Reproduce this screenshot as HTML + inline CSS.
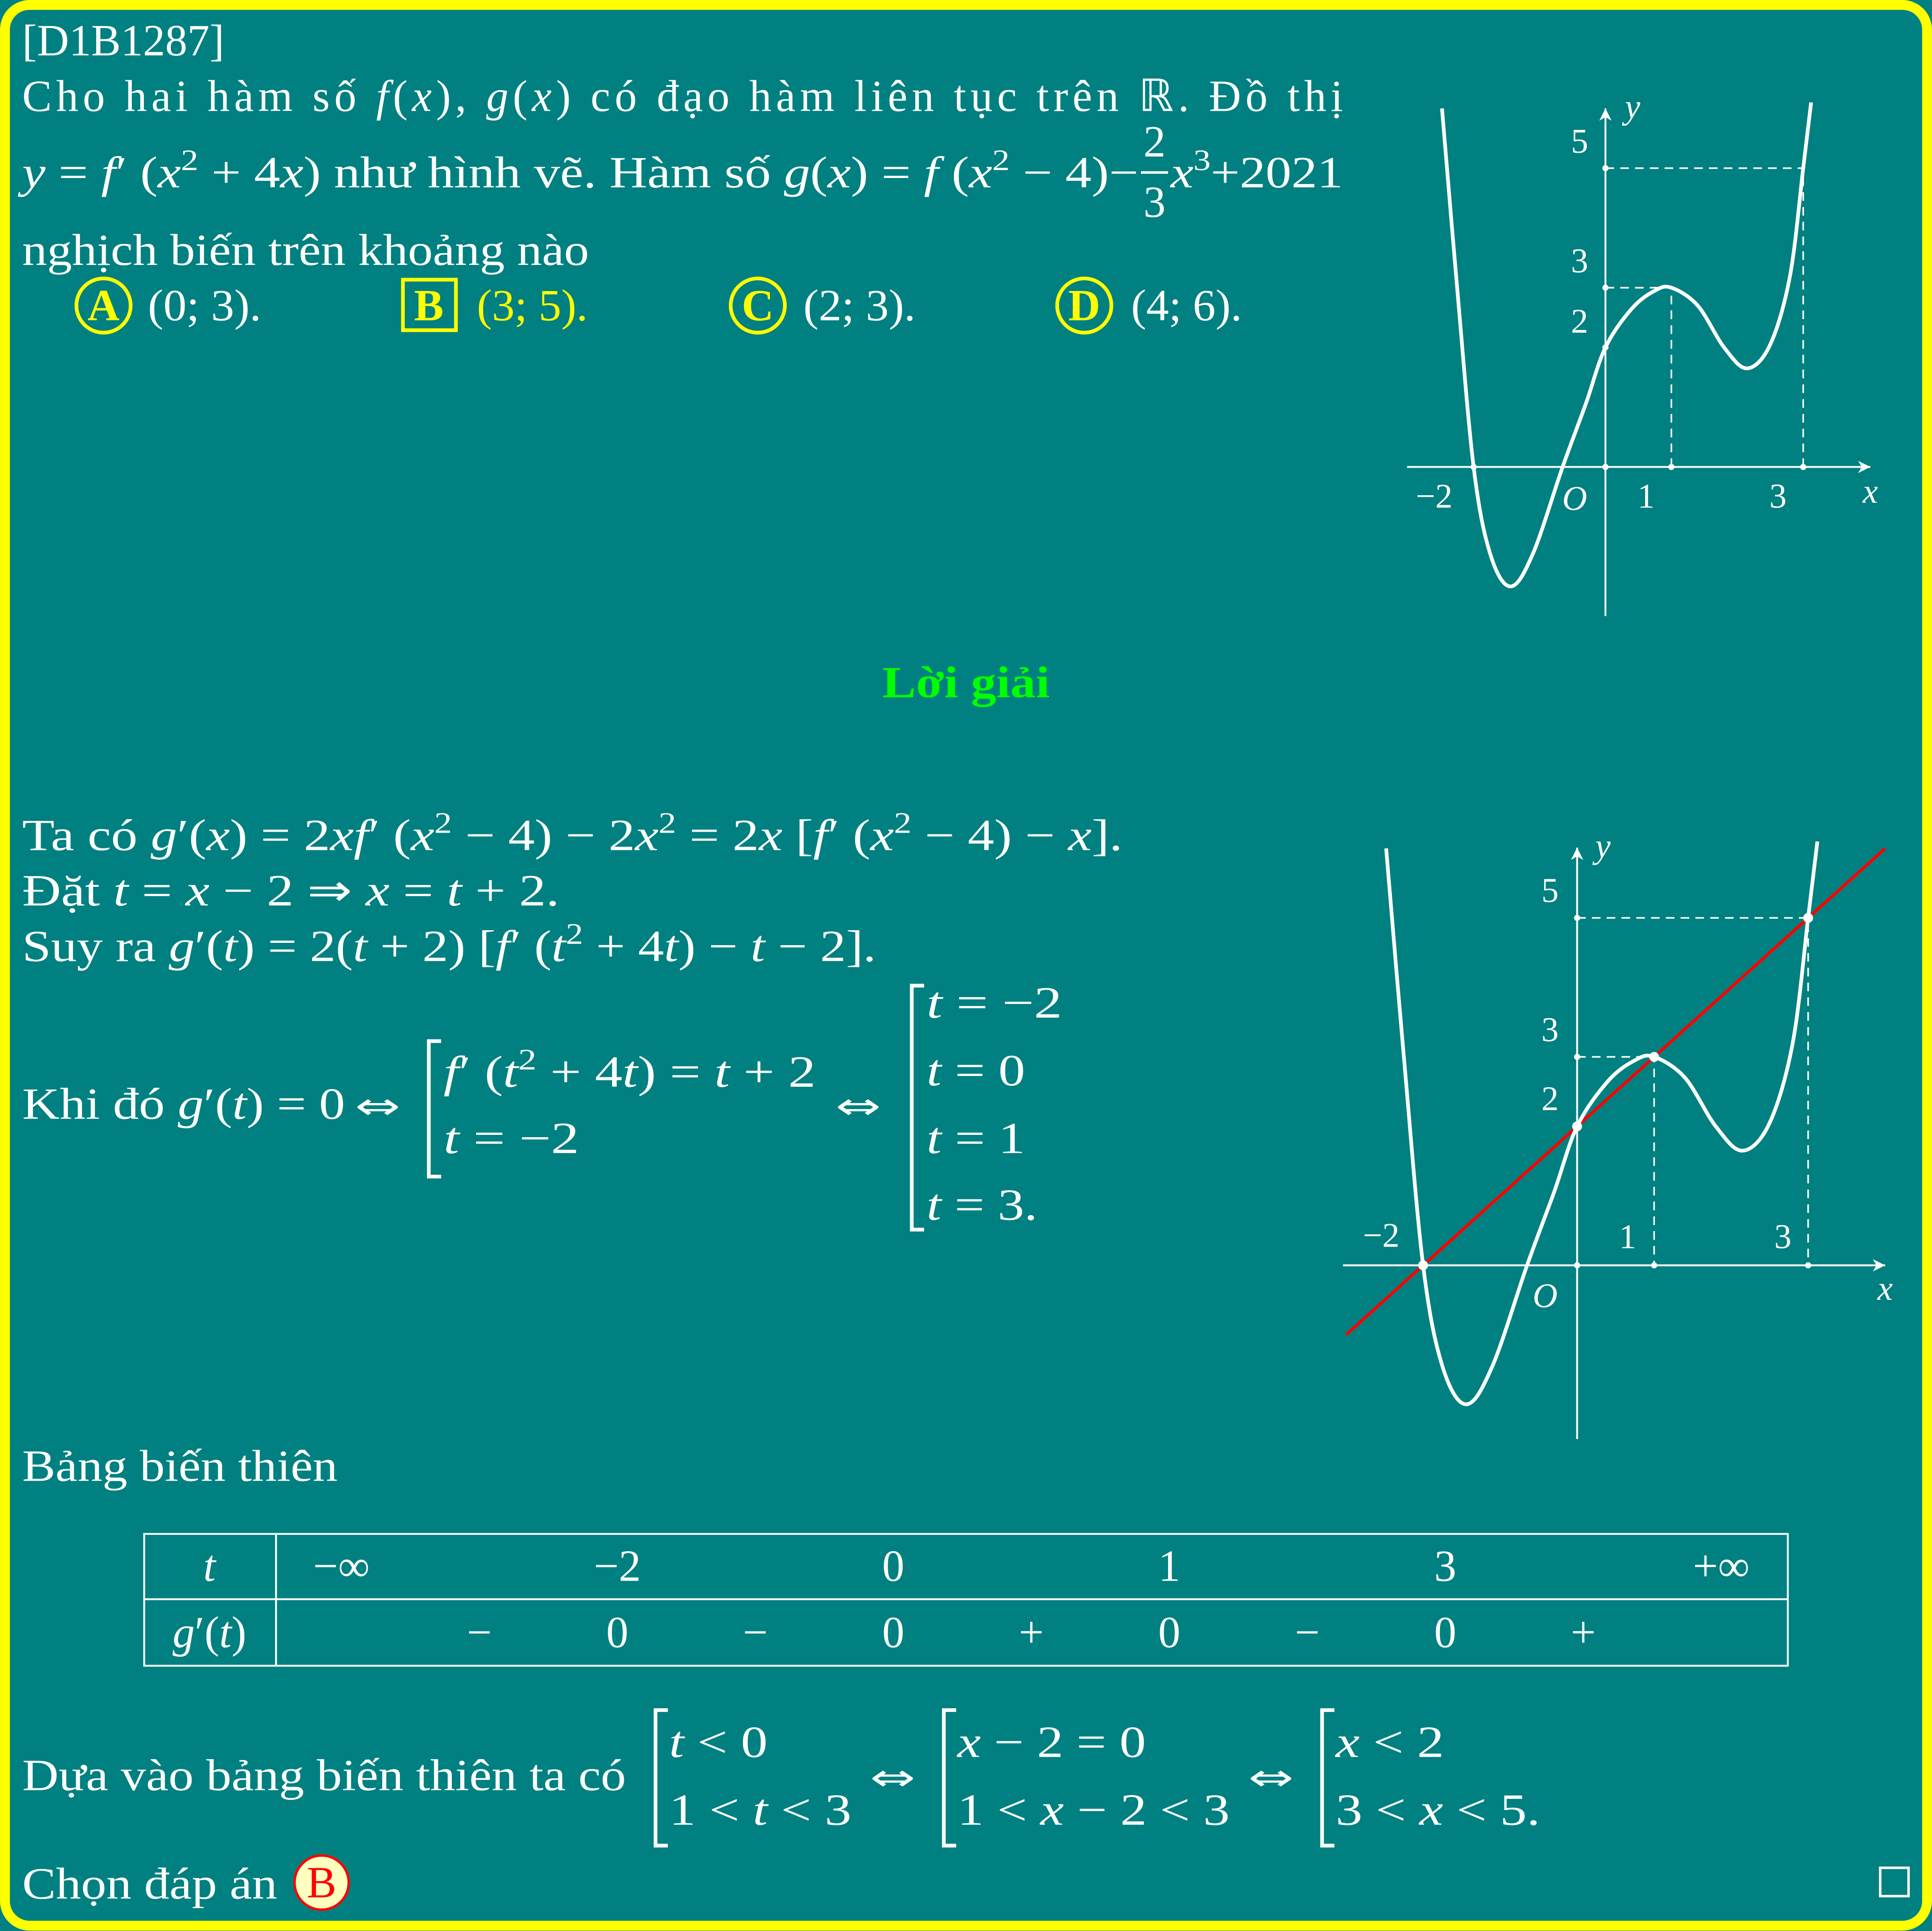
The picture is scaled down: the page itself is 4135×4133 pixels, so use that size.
<!DOCTYPE html>
<html><head><meta charset="utf-8"><style>
html,body{margin:0;padding:0;background:#008080;}
svg{display:block;}
text{font-family:"Liberation Serif",serif;fill:#fff;font-size:36px;}
.i{font-style:italic;}
.ar{font-family:"DejaVu Sans",sans-serif;font-size:30px;}
</style></head><body>
<svg width="4135" height="4133" viewBox="0 0 1568 1567.3" xmlns="http://www.w3.org/2000/svg">
<rect x="4" y="4" width="1560" height="1559" rx="20" fill="#008080" stroke="#ffff00" stroke-width="8"/>

<text x="18" y="45" textLength="164" lengthAdjust="spacingAndGlyphs">[D1B1287]</text>
<text x="18" y="90" textLength="1072" lengthAdjust="spacing">Cho hai hàm số <tspan class="i">f</tspan>(<tspan class="i">x</tspan>), <tspan class="i">g</tspan>(<tspan class="i">x</tspan>) có đạo hàm liên tục trên ℝ. Đồ thị</text>
<text x="18" y="152" textLength="906" lengthAdjust="spacingAndGlyphs"><tspan class="i">y</tspan> = <tspan class="i">f</tspan>′ (<tspan class="i">x</tspan><tspan dy="-14" font-size="24">2</tspan><tspan dy="14"> + 4</tspan><tspan class="i">x</tspan>) như hình vẽ. Hàm số <tspan class="i">g</tspan>(<tspan class="i">x</tspan>) = <tspan class="i">f</tspan> (<tspan class="i">x</tspan><tspan dy="-14" font-size="24">2</tspan><tspan dy="14"> − 4)−</tspan></text>
<text x="928" y="127">2</text>
<line x1="926" y1="140" x2="948" y2="140" stroke="#fff" stroke-width="2"/>
<text x="928" y="176">3</text>
<text x="950" y="152" textLength="140" lengthAdjust="spacingAndGlyphs"><tspan class="i">x</tspan><tspan dy="-14" font-size="24">3</tspan><tspan dy="14">+2021</tspan></text>
<text x="18" y="215" textLength="460" lengthAdjust="spacingAndGlyphs">nghịch biến trên khoảng nào</text>

<g>
<circle cx="84" cy="248" r="22" fill="none" stroke="#ffff00" stroke-width="3"/>
<text x="84" y="260" text-anchor="middle" font-weight="bold" style="fill:#ffff00">A</text>
<text x="120" y="260" textLength="92" lengthAdjust="spacingAndGlyphs">(0; 3).</text></g>
<g>
<rect x="327" y="227" width="43" height="41" fill="none" stroke="#ffff00" stroke-width="3"/>
<text x="348" y="260" text-anchor="middle" font-weight="bold" style="fill:#ffff00">B</text>
<text x="387" y="260" textLength="90" lengthAdjust="spacingAndGlyphs" style="fill:#ffff00">(3; 5).</text></g>
<g>
<circle cx="615" cy="248" r="22" fill="none" stroke="#ffff00" stroke-width="3"/>
<text x="615" y="260" text-anchor="middle" font-weight="bold" style="fill:#ffff00">C</text>
<text x="652" y="260" textLength="91" lengthAdjust="spacingAndGlyphs">(2; 3).</text></g>
<g>
<circle cx="880" cy="248" r="22" fill="none" stroke="#ffff00" stroke-width="3"/>
<text x="880" y="260" text-anchor="middle" font-weight="bold" style="fill:#ffff00">D</text>
<text x="918" y="260" textLength="90" lengthAdjust="spacingAndGlyphs">(4; 6).</text></g>

<g id="g1"></g>

<text x="784" y="566" text-anchor="middle" font-weight="bold" textLength="136" lengthAdjust="spacingAndGlyphs" style="fill:#00ff00;font-size:36px">Lời giải</text>

<text x="18" y="690" textLength="893" lengthAdjust="spacingAndGlyphs">Ta có <tspan class="i">g</tspan>′(<tspan class="i">x</tspan>) = 2<tspan class="i">xf</tspan>′ (<tspan class="i">x</tspan><tspan dy="-14" font-size="24">2</tspan><tspan dy="14"> − 4) − 2</tspan><tspan class="i">x</tspan><tspan dy="-14" font-size="24">2</tspan><tspan dy="14"> = 2</tspan><tspan class="i">x</tspan> [<tspan class="i">f</tspan>′ (<tspan class="i">x</tspan><tspan dy="-14" font-size="24">2</tspan><tspan dy="14"> − 4) − </tspan><tspan class="i">x</tspan>].</text>
<text x="18" y="735" textLength="436" lengthAdjust="spacingAndGlyphs">Đặt <tspan class="i">t</tspan> = <tspan class="i">x</tspan> − 2 ⇒ <tspan class="i">x</tspan> = <tspan class="i">t</tspan> + 2.</text>
<text x="18" y="780" textLength="693" lengthAdjust="spacingAndGlyphs">Suy ra <tspan class="i">g</tspan>′(<tspan class="i">t</tspan>) = 2(<tspan class="i">t</tspan> + 2) [<tspan class="i">f</tspan>′ (<tspan class="i">t</tspan><tspan dy="-14" font-size="24">2</tspan><tspan dy="14"> + 4</tspan><tspan class="i">t</tspan>) − <tspan class="i">t</tspan> − 2].</text>
<text x="18" y="908" textLength="262" lengthAdjust="spacingAndGlyphs">Khi đó <tspan class="i">g</tspan>′(<tspan class="i">t</tspan>) = 0</text>
<text class="ar" x="288" y="908" textLength="37" lengthAdjust="spacingAndGlyphs">⇔</text>
<path d="M358 845 H348 V955 H358" fill="none" stroke="#fff" stroke-width="3"/>
<text x="360" y="882" textLength="302" lengthAdjust="spacingAndGlyphs"><tspan class="i">f</tspan>′ (<tspan class="i">t</tspan><tspan dy="-14" font-size="24">2</tspan><tspan dy="14"> + 4</tspan><tspan class="i">t</tspan>) = <tspan class="i">t</tspan> + 2</text>
<text x="360" y="936" textLength="110" lengthAdjust="spacingAndGlyphs"><tspan class="i">t</tspan> = −2</text>
<text class="ar" x="678" y="908" textLength="37" lengthAdjust="spacingAndGlyphs">⇔</text>
<path d="M750 800 H740 V998 H750" fill="none" stroke="#fff" stroke-width="3"/>
<text x="752" y="826" textLength="110" lengthAdjust="spacingAndGlyphs"><tspan class="i">t</tspan> = −2</text>
<text x="752" y="881" textLength="80" lengthAdjust="spacingAndGlyphs"><tspan class="i">t</tspan> = 0</text>
<text x="752" y="936" textLength="80" lengthAdjust="spacingAndGlyphs"><tspan class="i">t</tspan> = 1</text>
<text x="752" y="990" textLength="90" lengthAdjust="spacingAndGlyphs"><tspan class="i">t</tspan> = 3.</text>

<g id="g2"></g>

<text x="18" y="1202" textLength="256" lengthAdjust="spacingAndGlyphs">Bảng biến thiên</text>
<g id="tbl">
<rect x="117" y="1245" width="1334" height="107" fill="none" stroke="#fff" stroke-width="1.5"/>
<line x1="117" y1="1298" x2="1451" y2="1298" stroke="#fff" stroke-width="1.5"/>
<line x1="224" y1="1245" x2="224" y2="1352" stroke="#fff" stroke-width="1.5"/>
<text x="170" y="1283" text-anchor="middle" class="i">t</text>
<text x="170" y="1337" text-anchor="middle"><tspan class="i">g</tspan>′(<tspan class="i">t</tspan>)</text>
</g>

<text x="18" y="1453" textLength="490" lengthAdjust="spacingAndGlyphs">Dựa vào bảng biến thiên ta có</text>
<path d="M542 1388 H532 V1498 H542" fill="none" stroke="#fff" stroke-width="3"/>
<text x="543" y="1426" textLength="80" lengthAdjust="spacingAndGlyphs"><tspan class="i">t</tspan> &lt; 0</text>
<text x="543" y="1481" textLength="148" lengthAdjust="spacingAndGlyphs">1 &lt; <tspan class="i">t</tspan> &lt; 3</text>
<text class="ar" x="706" y="1453" textLength="37" lengthAdjust="spacingAndGlyphs">⇔</text>
<path d="M776 1388 H766 V1498 H776" fill="none" stroke="#fff" stroke-width="3"/>
<text x="777" y="1426" textLength="153" lengthAdjust="spacingAndGlyphs"><tspan class="i">x</tspan> − 2 = 0</text>
<text x="777" y="1481" textLength="221" lengthAdjust="spacingAndGlyphs">1 &lt; <tspan class="i">x</tspan> − 2 &lt; 3</text>
<text class="ar" x="1013" y="1453" textLength="37" lengthAdjust="spacingAndGlyphs">⇔</text>
<path d="M1083 1388 H1073 V1498 H1083" fill="none" stroke="#fff" stroke-width="3"/>
<text x="1084" y="1426" textLength="88" lengthAdjust="spacingAndGlyphs"><tspan class="i">x</tspan> &lt; 2</text>
<text x="1084" y="1481" textLength="166" lengthAdjust="spacingAndGlyphs">3 &lt; <tspan class="i">x</tspan> &lt; 5.</text>

<text x="18" y="1541" textLength="207" lengthAdjust="spacingAndGlyphs">Chọn đáp án</text>
<circle cx="261" cy="1528" r="22" fill="#ffffc0" stroke="#ff0000" stroke-width="2"/>
<text x="261" y="1540" text-anchor="middle" style="fill:#ff0000">B</text>
<rect x="1526" y="1516" width="23" height="23" fill="none" stroke="#fff" stroke-width="2"/>
</svg>
<script>
// curve sample data (x, y) of y = f'(x^2+4x)
const curveX=[-2.48,-2.25,-2,-1.75,-1.44,-1.1,-0.65,-0.3,0,0.4,0.75,1,1.4,1.8,2.15,2.5,2.8,3,3.12];
const curveY=[6,3,0,-1.45,-2,-1.45,0,1.05,2,2.65,2.95,3,2.7,2.0,1.65,2.05,3.2,5,6.1];
const lineX=[-3,4];
const lineY=[-1,6];
const tableT=['−∞','−2','0','1','3','+∞'];
const tableSigns=['−','0','−','0','+','0','−','0','+'];
const NS='http://www.w3.org/2000/svg';
function mk(tag,attrs,parent,txt){const e=document.createElementNS(NS,tag);for(const k in attrs)e.setAttribute(k,attrs[k]);if(txt!==undefined)e.textContent=txt;parent.appendChild(e);return e;}
function smooth(pts){let d='M'+pts[0][0]+' '+pts[0][1];for(let i=0;i<pts.length-1;i++){const p0=pts[Math.max(0,i-1)],p1=pts[i],p2=pts[i+1],p3=pts[Math.min(pts.length-1,i+2)];const c1=[p1[0]+(p2[0]-p0[0])/6,p1[1]+(p2[1]-p0[1])/6],c2=[p2[0]-(p3[0]-p1[0])/6,p2[1]-(p3[1]-p1[1])/6];d+=' C'+c1.join(' ')+' '+c2.join(' ')+' '+p2.join(' ');}return d;}
function graph(g,o){
  const sx=x=>o.ox+x*o.ux, sy=y=>o.oy-y*o.uy;
  const ax=mk('line',{x1:o.xa[0],y1:o.oy,x2:o.xa[1],y2:o.oy,stroke:'#fff','stroke-width':1.5},g);
  
  mk('path',{d:`M${o.xa[1]} ${o.oy} l-10 -5 l3 5 l-3 5 z`,fill:'#fff'},g);
  const ay=mk('line',{x1:o.ox,y1:o.ya[0],x2:o.ox,y2:o.ya[1],stroke:'#fff','stroke-width':1.5},g);
  
  mk('path',{d:`M${o.ox} ${o.ya[1]} l-5 10 l5 -3 l5 3 z`,fill:'#fff'},g);
  [[1,3],[3,5]].forEach(([x,y])=>{mk('path',{d:`M${o.ox} ${sy(y)} H${sx(x)} V${o.oy}`,fill:'none',stroke:'#fff','stroke-width':1.3,'stroke-dasharray':'7 5'},g);});
  if(o.red){const l=mk('line',{x1:sx(lineX[0]),y1:sy(lineY[0]),x2:sx(lineX[1]),y2:sy(lineY[1]),stroke:'#ff0000','stroke-width':2.5},g);
    }
  const pts=curveX.map((x,i)=>[sx(x),sy(curveY[i])]);
  const c=mk('path',{d:smooth(pts),fill:'none',stroke:'#fff','stroke-width':3},g);
  
  [[-2,0],[0,0],[1,0],[3,0],[0,5],[0,3],[0,2]].forEach(([x,y])=>mk('circle',{cx:sx(x),cy:sy(y),r:2.5,fill:'#fff'},g));
  if(o.red)[[-2,0],[0,2],[1,3],[3,5]].forEach(([x,y])=>mk('circle',{cx:sx(x),cy:sy(y),r:3.5,fill:'#fff',stroke:'#fff'},g));
  o.labels.forEach(([t,x,y,it])=>{const e=mk('text',{x:x,y:y,'text-anchor':'middle',style:'font-size:28px'+(it?';font-style:italic':'')},g,t);
    });
}
graph(document.getElementById('g1'),{ox:1303,oy:379,ux:53.5,uy:48.5,xa:[1142,1518],ya:[500,88],red:false,
 labels:[['−2',1164,412],['O',1278,414,1],['1',1336,412],['3',1443,412],['x',1518,408,1],['y',1325,96,1],['5',1282,124],['3',1282,221],['2',1282,270]]});
graph(document.getElementById('g2'),{ox:1280,oy:1027,ux:62.5,uy:56.4,xa:[1090,1530],ya:[1168,688],red:true,
 labels:[['−2',1121,1012],['O',1254,1061,1],['1',1321,1013],['3',1447,1013],['x',1530,1055,1],['y',1301,696,1],['5',1258,732],['3',1258,845],['2',1258,901]]});
const tbl=document.getElementById('tbl');
const tX=i=>277+i*224;
tableT.forEach((t,i)=>{const e=mk('text',{x:i==0?277:(i==5?1397:tX(i)),y:1283,'text-anchor':'middle'},tbl,t);
 });
tableSigns.forEach((s,i)=>{const e=mk('text',{x:389+i*112,y:1337,'text-anchor':'middle'},tbl,s);
 });
</script>
</body></html>
